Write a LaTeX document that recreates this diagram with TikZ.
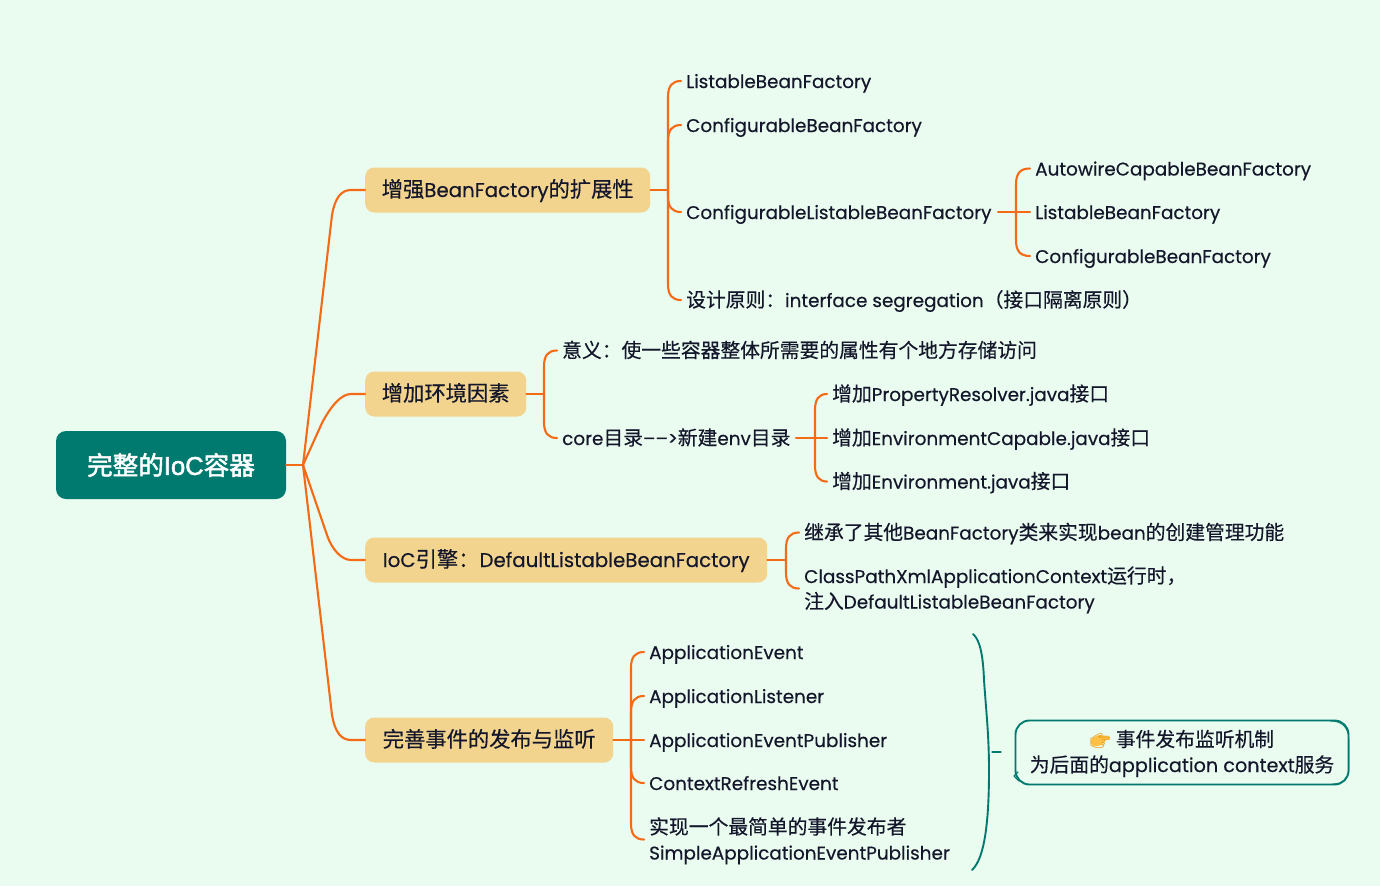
\documentclass[tikz,border=0pt]{standalone}
\usepackage{fontspec}
\setmainfont[FakeBold=0.4]{Poppins}
\newfontfamily\cjkf[Scale=1.075,FakeBold=0.4]{Noto Sans CJK SC}
\newfontfamily\cjkrootf[FakeBold=2]{Noto Sans CJK SC}
\newfontfamily\latinrootf[FakeBold=2]{Liberation Sans}
\newfontfamily\emojif[Scale=0.9]{Noto Emoji}
\newcommand\zh[1]{{\cjkf #1}}
\usetikzlibrary{calc}
\definecolor{bgc}{HTML}{EAFBEF}
\definecolor{tealc}{HTML}{007A6E}
\definecolor{boxc}{HTML}{F2D48F}
\definecolor{orc}{HTML}{F56A14}
\definecolor{inkc}{HTML}{14172B}
\definecolor{handc}{HTML}{E8960F}
\definecolor{handf}{HTML}{FBC044}
\tikzset{
  ln/.style={draw=orc,line width=2.1pt,line cap=round,line join=round},
  lnt/.style={draw=tealc,line width=1.9pt,line cap=round,line join=round},
  item/.style={anchor=west,inner sep=0pt,text=inkc,align=left,text height=19pt,text depth=5pt,font=\fontsize{18.4}{25.5}\selectfont},
  topic/.style={anchor=west,rectangle,rounded corners=9pt,fill=boxc,inner sep=0pt,minimum height=45pt,text=inkc,text height=19pt,text depth=5pt,font=\fontsize{19.8}{26}\selectfont},
  rootbox/.style={rectangle,rounded corners=10pt,fill=tealc,inner sep=0pt,minimum width=230pt,minimum height=68pt,text=white,font=\fontsize{25.6}{30}\selectfont},
  callout/.style={rectangle,rounded corners=14pt,draw=tealc,line width=1.9pt,inner sep=0pt,minimum width=333pt,minimum height=64pt},
  calltext/.style={inner sep=0pt,text=inkc,align=center,text height=19pt,text depth=5pt,font=\fontsize{18.4}{25.5}\selectfont}
}
% hub, target anchor, sign: "-" target above the hub, "+" target below it
\newcommand\branch[3]{\draw[ln] let \p1=(#1),\p2=(#2) in (\p1)
  -- (\x1,\y2#316pt) .. controls (\x1,\y2#35pt) and (\x1+4pt,\y2) .. (\x2-5pt,\y2);}
\newcommand\mainbranch[3]{\draw[ln] let \p1=(#1),\p2=(#2) in (\p1)
  -- (\x1+29pt,\y2#325pt) .. controls (\x1+32pt,\y2#38pt) and (\x1+38pt,\y2) .. (\x1+48pt,\y2) -- (\p2);}
\begin{document}
\begin{tikzpicture}[x=1pt,y=-1pt]
\useasboundingbox (0,0) rectangle (1380,886);
\fill[bgc] (0,0) rectangle (1380,886);

\node[rootbox] (root) at (171,465) {\cjkrootf 完整的{\latinrootf IoC}容器};
\node[topic,minimum width=285pt] (a) at (365,190) {\zh{增强}BeanFactory\zh{的扩展性}};
\node[topic,minimum width=161pt] (b) at (365,394) {\zh{增加环境因素}};
\node[topic,minimum width=402pt] (c) at (365,560) {IoC\zh{引擎：}DefaultListableBeanFactory};
\node[topic,minimum width=248pt] (d) at (365,740) {\zh{完善事件的发布与监听}};

\node[item] (a1) at (686,81) {ListableBeanFactory};
\node[item] (a2) at (686,125) {ConfigurableBeanFactory};
\node[item] (a3) at (686,212) {ConfigurableListableBeanFactory};
\node[item] (a4) at (686,300) {\zh{设计原则：}interface segregation\zh{（接口隔离原则）}};
\node[item] (a31) at (1035,168.5) {AutowireCapableBeanFactory};
\node[item] (a32) at (1035,212) {ListableBeanFactory};
\node[item] (a33) at (1035,256) {ConfigurableBeanFactory};

\node[item] (b1) at (562,350.5) {\zh{意义：使一些容器整体所需要的属性有个地方存储访问}};
\node[item] (b2) at (562,438) {core\zh{目录}–{}–>\zh{新建}env\zh{目录}};
\node[item] (b21) at (832,394) {\zh{增加}PropertyResolver.java\zh{接口}};
\node[item] (b22) at (832,438) {\zh{增加}EnvironmentCapable.java\zh{接口}};
\node[item] (b23) at (832,481.5) {\zh{增加}Environment.java\zh{接口}};

\node[item] (c1) at (804,532.5) {\zh{继承了其他}BeanFactory\zh{类来实现}bean\zh{的创建管理功能}};
\node[item] (c2) at (804,601.5) {ClassPathXmlApplicationContext\zh{运行时，}\\\zh{注入}DefaultListableBeanFactory};

\node[item] (d1) at (649,652) {ApplicationEvent};
\node[item] (d2) at (649,696) {ApplicationListener};
\node[item] (d3) at (649,740) {ApplicationEventPublisher};
\node[item] (d4) at (649,783) {ContextRefreshEvent};
\node[item] (d5) at (649,852.5) {\zh{实现一个最简单的事件发布者}\\SimpleApplicationEventPublisher};

\fill[handf,rounded corners=1.5pt] (1091,739) -- (1098,735) -- (1110,736) -- (1110,739) -- (1104,740.5) -- (1103,745) -- (1094,746.5) -- (1091,744.5) -- cycle;
\node[callout] (note) at (1182,752.5) {};
\node[calltext] (notetext) at (1182,765) {{\emojif\textcolor{handc}{\symbol{"1F449}}} \zh{事件发布监听机制}\\\zh{为后面的}{\fontsize{19.2}{25.5}\selectfont application context}\zh{服务}};
\draw[lnt,line width=.8pt] (1330,721) .. controls (1343,721) and (1349,728) .. (1349,742) -- (1349,768) .. controls (1349,779) and (1343,784) .. (1332,784);
\draw[lnt,line width=1.2pt] (1018,772) -- (1014,776) -- (1019,781);

% main branches
\coordinate (hub) at (303,465);
\draw[ln] (root.east) -- (hub);
\mainbranch{hub}{a.west}{-}
\draw[ln] (hub) -- (322,423) .. controls (331,406) and (341,394) .. (351,394) -- (b.west);
\draw[ln] (hub) -- (327,535) .. controls (332,550) and (342,560) .. (351,560) -- (c.west);
\mainbranch{hub}{d.west}{+}

% A
\coordinate (ha) at (668,190);
\draw[ln] (a.east) -- (ha);
\branch{ha}{a1.west}{-}
\branch{ha}{a2.west}{-}
\branch{ha}{a3.west}{+}
\branch{ha}{a4.west}{+}
\coordinate (ha3) at (1016,212);
\coordinate (ha3r) at (1030,212);
\coordinate (ha3l) at (998,212);
\draw[ln] (ha3l) -- (ha3r);
\branch{ha3}{a31.west}{-}
\branch{ha3}{a33.west}{+}

% B
\coordinate (hb) at (544,394);
\draw[ln] (b.east) -- (hb);
\branch{hb}{b1.west}{-}
\branch{hb}{b2.west}{+}
\coordinate (hb2) at (815,438);
\coordinate (hb2l) at (796,438);
\coordinate (hb2r) at (827,438);
\draw[ln] (hb2l) -- (hb2r);
\branch{hb2}{b21.west}{-}
\branch{hb2}{b23.west}{+}

% C
\coordinate (hc) at (786,560);
\coordinate (c2mid) at (804,588.5);
\draw[ln] (c.east) -- (hc);
\branch{hc}{c1.west}{-}
\branch{hc}{c2mid}{+}

% D
\coordinate (hd) at (631,740);
\coordinate (hdr) at (644,740);
\coordinate (d5mid) at (649,839.5);
\draw[ln] (d.east) -- (hd);
\branch{hd}{d1.west}{-}
\branch{hd}{d2.west}{-}
\draw[ln] (hd) -- (hdr);
\branch{hd}{d4.west}{+}
\branch{hd}{d5mid}{+}

% summary brace
\draw[lnt] (973,634) .. controls (980,640) and (983,655) .. (984,680) .. controls (986,710) and (989,735) .. (989,770) .. controls (989,820) and (985,858) .. (972,870);
\draw[lnt,line width=1.2pt] (992,752) -- (1001,752);
\end{tikzpicture}
\end{document}
